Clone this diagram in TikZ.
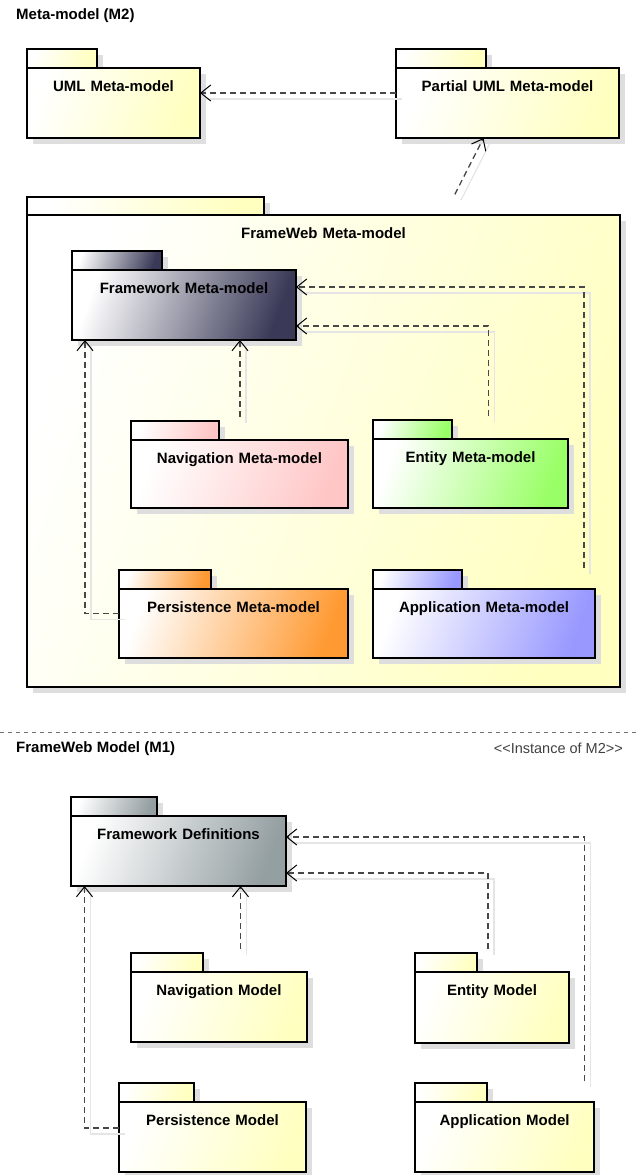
\documentclass[tikz,border=0pt]{standalone}
\usepackage{fontspec}
\newfontfamily\lblfont{Liberation Sans}
\usepackage{tikz}
\usetikzlibrary{positioning,arrows.meta,shadows}

\definecolor{pkgyellow}{HTML}{FFFFC0}
\definecolor{pkgnavy}{HTML}{3A3A58}
\definecolor{pkgpink}{HTML}{FFC6C6}
\definecolor{pkggreen}{HTML}{99FF66}
\definecolor{pkgorange}{HTML}{FF9A33}
\definecolor{pkgviolet}{HTML}{9898FF}
\definecolor{pkggray}{HTML}{949FA2}

\newcommand\pkgfont{\lblfont\bfseries\fontsize{15pt}{18pt}\selectfont}

\tikzset{
	pkgshadow/.style={drop shadow={shadow xshift=6pt,shadow yshift=-6pt,fill=black!13,opacity=1}},
	tab/.style={draw,line width=2.7pt,outer sep=0pt,inner sep=0pt,minimum height=19pt,anchor=north west,
		left color=white,right color=#1,shading angle=70,pkgshadow},
	pkg/.style={draw,line width=2.7pt,outer sep=0pt,inner sep=0pt,align=center,font=\pkgfont,text height=23pt,
		left color=white,right color=#1,shading angle=70,pkgshadow},
	dep/.style={draw=black!72,line width=1.3pt,dash pattern=on 6pt off 4pt,
		-{Straight Barb[length=10pt,width=16pt,line width=1pt,color=black]},
		preaction={draw=black!10,solid,line width=1.2pt,arrows=-,transform canvas={xshift=6pt,yshift=-6pt}}},
	title/.style={font=\pkgfont,anchor=west,inner sep=0pt},
	stereo/.style={font=\lblfont\fontsize{14.5pt}{17pt}\selectfont,text=black!75,anchor=east,inner sep=0pt}
}

\begin{document}
\begin{tikzpicture}[x=1pt,y=-1pt]
		\useasboundingbox (0,0) rectangle (639,1175);

		%meta-model level
		\node[title] (m2title) at (16,16) {Meta-model (M2)};

		\node[tab=pkgyellow,minimum width=70pt] (umltab) at (27,49) {};
		\node[pkg=pkgyellow,text width=173pt,text depth=47pt,below right=0pt and 0pt of umltab.south west] (uml) {UML Meta-model};

		\node[tab=pkgyellow,minimum width=90pt] (pumltab) at (396,49) {};
		\node[pkg=pkgyellow,text width=223pt,text depth=47pt,below right=0pt and 0pt of pumltab.south west] (puml) {Partial UML Meta-model};

		%frameweb meta-model and its packages
		\node[tab=pkgyellow,minimum width=237pt,minimum height=18pt] (fwmtab) at (27,197) {};
		\node[pkg=pkgyellow,text width=593pt,text depth=449pt,below right=0pt and 0pt of fwmtab.south west] (fwm) {FrameWeb Meta-model};

		\node[tab=pkgnavy,minimum width=90pt] (fwtab) at (72,251) {};
		\node[pkg=pkgnavy,text width=224pt,text depth=47pt,below right=0pt and 0pt of fwtab.south west] (fw) {Framework Meta-model};

		\node[tab=pkgpink,minimum width=88pt] (navtab) at (131,421) {};
		\node[pkg=pkgpink,text width=217pt,text depth=45pt,below right=0pt and 0pt of navtab.south west] (nav) {Navigation Meta-model};

		\node[tab=pkggreen,minimum width=79pt] (enttab) at (373,420) {};
		\node[pkg=pkggreen,text width=195pt,text depth=46pt,below right=0pt and 0pt of enttab.south west] (ent) {Entity Meta-model};

		\node[tab=pkgorange,minimum width=92pt] (pertab) at (119,570) {};
		\node[pkg=pkgorange,text width=229pt,text depth=46pt,below right=0pt and 0pt of pertab.south west] (per) {Persistence Meta-model};

		\node[tab=pkgviolet,minimum width=89pt] (apptab) at (373,570) {};
		\node[pkg=pkgviolet,text width=222pt,text depth=46pt,below right=0pt and 0pt of apptab.south west] (app) {Application Meta-model};

		%meta-model dependencies
		\draw[dep] ([yshift=10pt]puml.west) -- ([yshift=10pt]uml.east);
		\draw[dep,shorten <=3pt] ([xshift=130pt]fwm.north |- fwmtab.north) -- ([xshift=-24pt]puml.south);
		\draw[dep,shorten <=4pt] ([xshift=56pt]fw.south |- navtab.north) -- ([xshift=56pt]fw.south);
		\draw[dep] ([yshift=10pt]per.west) -| ([xshift=-99pt]fw.south);
		\draw[dep,shorten <=4pt] ([xshift=18pt]ent.north |- enttab.north) |- ([yshift=-21pt]fw.east);
		\draw[dep,shorten <=2pt] ([xshift=100pt]app.north |- apptab.north) |- ([yshift=18pt]fw.east);

		%level separator
		\draw[black!55,line width=0.8pt,dash pattern=on 4pt off 4pt] (0,732) -- (639,732);

		%model level
		\node[title] (m1title) at (16,749) {FrameWeb Model (M1)};
		\node[stereo] (inst) at (623,748) {<<Instance of M2>>};

		\node[tab=pkggray,minimum width=86pt] (fdtab) at (71,797) {};
		\node[pkg=pkggray,text width=215pt,text depth=47pt,below right=0pt and 0pt of fdtab.south west] (fd) {Framework Definitions};

		\node[tab=pkgyellow,minimum width=72pt] (navmtab) at (131,953) {};
		\node[pkg=pkgyellow,text width=176pt,text depth=47pt,below right=0pt and 0pt of navmtab.south west] (navm) {Navigation Model};

		\node[tab=pkgyellow,minimum width=62pt] (entmtab) at (415,953) {};
		\node[pkg=pkgyellow,text width=154pt,text depth=48pt,below right=0pt and 0pt of entmtab.south west] (entm) {Entity Model};

		\node[tab=pkgyellow,minimum width=75pt] (permtab) at (119,1083) {};
		\node[pkg=pkgyellow,text width=187pt,text depth=47pt,below right=0pt and 0pt of permtab.south west] (perm) {Persistence Model};

		\node[tab=pkgyellow,minimum width=72pt] (appmtab) at (415,1083) {};
		\node[pkg=pkgyellow,text width=179pt,text depth=47pt,below right=0pt and 0pt of appmtab.south west] (appm) {Application Model};

		%model dependencies
		\draw[dep,shorten <=4pt] ([xshift=62pt]fd.south |- navmtab.north) -- ([xshift=62pt]fd.south);
		\draw[dep] ([yshift=9pt]perm.west) -| ([xshift=-94pt]fd.south);
		\draw[dep,shorten <=4pt] ([xshift=-4pt]entm.north |- entmtab.north) |- ([yshift=-22pt]fd.east);
		\draw[dep,shorten <=2pt] ([xshift=80pt]appm.north |- appmtab.north) |- ([yshift=14pt]fd.east);
\end{tikzpicture}
\end{document}
